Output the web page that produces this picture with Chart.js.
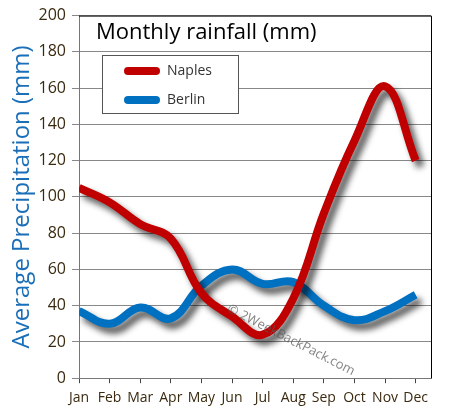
<!DOCTYPE html>
<html>
<head>
<meta charset="utf-8">
<script src="https://cdn.jsdelivr.net/npm/chart.js@4"></script>
<style>
  body { margin: 0; background: #fff; }
  #wrap { width: 451px; height: 418px; }
</style>
</head>
<body>
<div id="wrap"><canvas id="rainChart"></canvas></div>
<script>
const months = ['Jan', 'Feb', 'Mar', 'Apr', 'May', 'Jun', 'Jul', 'Aug', 'Sep', 'Oct', 'Nov', 'Dec'];
const naples = [105, 97, 85, 77, 47, 34, 24, 44, 91, 131, 161, 120];
const berlin = [37, 30, 39, 33, 51, 60, 52, 53, 40, 32, 37, 46];
const yTicks = [0, 20, 40, 60, 80, 100, 120, 140, 160, 180, 200];

const FONT = '"Open Sans", sans-serif';

function toPoints(arr) {
    return arr.map(function (v, i) { return { x: i, y: v }; });
}

// soft drop shadow under each line
const shadowPlugin = {
    id: 'shadow',
    beforeDatasetDraw(chart) {
        const ctx = chart.ctx;
        ctx.save();
        ctx.shadowColor = 'rgba(0,0,0,0.65)';
        ctx.shadowBlur = 6;
        ctx.shadowOffsetX = 5;
        ctx.shadowOffsetY = 6;
    },
    afterDatasetDraw(chart) {
        chart.ctx.restore();
    }
};

// title, legend box, frame and watermark inside the plot
const decorPlugin = {
    id: 'decor',
    afterDatasetsDraw(chart) {
        const ctx = chart.ctx;
        const a = chart.chartArea;
        ctx.save();

        // top + right frame
        ctx.strokeStyle = '#000';
        ctx.lineWidth = 1;
        ctx.beginPath();
        ctx.moveTo(a.left, a.top + 0.5);
        ctx.lineTo(a.right + 0.5, a.top + 0.5);
        ctx.lineTo(a.right + 0.5, a.bottom);
        ctx.stroke();

        // watermark
        ctx.save();
        ctx.translate(228, 308);
        ctx.rotate(27 * Math.PI / 180);
        ctx.fillStyle = 'rgba(90,90,90,0.75)';
        ctx.font = '13px ' + FONT;
        ctx.textBaseline = 'middle';
        ctx.fillText('\u00a9 2WeekBackPack.com', 0, 0);
        ctx.restore();

        // title
        ctx.fillStyle = '#000';
        ctx.font = '22px ' + FONT;
        ctx.textBaseline = 'middle';
        ctx.fillText('Monthly rainfall (mm)', 96, 33);

        // legend
        ctx.fillStyle = '#fff';
        ctx.fillRect(102, 55, 136, 58);
        ctx.strokeStyle = '#555';
        ctx.strokeRect(102.5, 55.5, 136, 58);
        chart.data.datasets.forEach(function (ds, i) {
            const y = 71 + i * 29;
            ctx.strokeStyle = ds.borderColor;
            ctx.lineWidth = 8;
            ctx.lineCap = 'round';
            ctx.beginPath();
            ctx.moveTo(128, y);
            ctx.lineTo(156, y);
            ctx.stroke();
            ctx.fillStyle = '#333';
            ctx.font = '14px ' + FONT;
            ctx.fillText(ds.label, 167, y);
        });
        ctx.restore();
    }
};

const data = {
    datasets: [{
        label: 'Naples',
        data: toPoints(naples),
        borderColor: '#c00000',
        borderWidth: 8,
        tension: 0.4,
        pointRadius: 0,
        fill: false
    }, {
        label: 'Berlin',
        data: toPoints(berlin),
        borderColor: '#0070c0',
        borderWidth: 8,
        tension: 0.4,
        pointRadius: 0,
        fill: false
    }]
};

const config = {
    type: 'line',
    data: data,
    options: {
        responsive: true,
        maintainAspectRatio: false,
        animation: false,
        layout: { padding: { left: 8, right: 20, top: 6, bottom: 6 } },
        plugins: {
            legend: { display: false },
            tooltip: { enabled: false }
        },
        scales: {
            x: {
                type: 'linear',
                min: 0,
                max: 11.5,
                afterBuildTicks(scale) {
                    scale.ticks = months.map(function (m, i) { return { value: i }; });
                },
                ticks: {
                    autoSkip: false,
                    maxRotation: 0,
                    padding: 6,
                    color: '#3a2a10',
                    font: { family: FONT, size: 14 },
                    callback: function (v) { return months[v]; }
                },
                grid: { drawOnChartArea: false, drawTicks: true, tickLength: 5, color: '#444' },
                border: { color: '#777' }
            },
            y: {
                min: 0,
                max: 200,
                afterBuildTicks(scale) {
                    scale.ticks = yTicks.map(function (v) { return { value: v }; });
                },
                afterFit(scale) { scale.width = 71; },
                ticks: {
                    padding: 6,
                    color: '#3a2a10',
                    font: { family: FONT, size: 16 }
                },
                grid: { color: '#888', tickLength: 7 },
                border: { color: '#777' },
                title: {
                    display: true,
                    text: 'Average Precipitation (mm)',
                    color: '#1a6fb8',
                    font: { family: FONT, size: 24 },
                    padding: { top: 0, bottom: 0 }
                }
            }
        }
    },
    plugins: [shadowPlugin, decorPlugin]
};

const myChart = new Chart(document.getElementById('rainChart'), config);
</script>
</body>
</html>
